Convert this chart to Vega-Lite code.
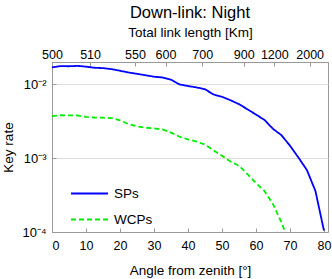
{
  "$schema": "https://vega.github.io/schema/vega-lite/v6.json",
  "width": 276,
  "height": 170,
  "autosize": "none",
  "padding": {"left": 52, "top": 62, "right": 4, "bottom": 47},
  "background": "white",
  "config": {
    "font": "Liberation Sans",
    "view": {"stroke": "#999999", "strokeWidth": 1},
    "axis": {
      "labelFont": "Liberation Sans",
      "titleFont": "Liberation Sans",
      "labelColor": "black",
      "titleColor": "black",
      "labelFontSize": 12.5,
      "titleFontSize": 13.5,
      "titleFontWeight": "normal",
      "domainColor": "#999999",
      "tickColor": "#999999",
      "gridColor": "#dddddd"
    }
  },
  "title": {
    "text": "Down-link: Night",
    "fontSize": 16.5,
    "fontWeight": "normal",
    "font": "Liberation Sans",
    "color": "black",
    "anchor": "middle",
    "offset": 4
  },
  "data": {
    "values": [
      {"series": "SPs", "angle": 0, "rate": 0.0170},
      {"series": "SPs", "angle": 2.5, "rate": 0.0177},
      {"series": "SPs", "angle": 5, "rate": 0.0176},
      {"series": "SPs", "angle": 7.5, "rate": 0.0178},
      {"series": "SPs", "angle": 10, "rate": 0.0174},
      {"series": "SPs", "angle": 12.5, "rate": 0.0168},
      {"series": "SPs", "angle": 15, "rate": 0.0166},
      {"series": "SPs", "angle": 17.5, "rate": 0.0161},
      {"series": "SPs", "angle": 20, "rate": 0.0153},
      {"series": "SPs", "angle": 22.5, "rate": 0.0145},
      {"series": "SPs", "angle": 25, "rate": 0.0139},
      {"series": "SPs", "angle": 27.5, "rate": 0.0133},
      {"series": "SPs", "angle": 30, "rate": 0.0127},
      {"series": "SPs", "angle": 32.5, "rate": 0.0124},
      {"series": "SPs", "angle": 35, "rate": 0.0116},
      {"series": "SPs", "angle": 37.5, "rate": 0.0100},
      {"series": "SPs", "angle": 40, "rate": 0.0095},
      {"series": "SPs", "angle": 42.5, "rate": 0.0091},
      {"series": "SPs", "angle": 45, "rate": 0.0086},
      {"series": "SPs", "angle": 47.5, "rate": 0.0073},
      {"series": "SPs", "angle": 50, "rate": 0.0068},
      {"series": "SPs", "angle": 52.5, "rate": 0.0061},
      {"series": "SPs", "angle": 55, "rate": 0.0054},
      {"series": "SPs", "angle": 57.5, "rate": 0.0046},
      {"series": "SPs", "angle": 60, "rate": 0.0039},
      {"series": "SPs", "angle": 62.5, "rate": 0.0033},
      {"series": "SPs", "angle": 65, "rate": 0.0025},
      {"series": "SPs", "angle": 67.5, "rate": 0.00205},
      {"series": "SPs", "angle": 70, "rate": 0.00148},
      {"series": "SPs", "angle": 72.5, "rate": 0.00102},
      {"series": "SPs", "angle": 75, "rate": 0.00069},
      {"series": "SPs", "angle": 77.5, "rate": 0.00036},
      {"series": "SPs", "angle": 80, "rate": 0.000105},
      {"series": "WCPs", "angle": 0, "rate": 0.00371},
      {"series": "WCPs", "angle": 2.5, "rate": 0.00382},
      {"series": "WCPs", "angle": 5, "rate": 0.00380},
      {"series": "WCPs", "angle": 7.5, "rate": 0.00379},
      {"series": "WCPs", "angle": 10, "rate": 0.00362},
      {"series": "WCPs", "angle": 12.5, "rate": 0.00356},
      {"series": "WCPs", "angle": 15, "rate": 0.00354},
      {"series": "WCPs", "angle": 17.5, "rate": 0.00350},
      {"series": "WCPs", "angle": 20, "rate": 0.00326},
      {"series": "WCPs", "angle": 22.5, "rate": 0.00290},
      {"series": "WCPs", "angle": 25, "rate": 0.00270},
      {"series": "WCPs", "angle": 27.5, "rate": 0.00259},
      {"series": "WCPs", "angle": 30, "rate": 0.00253},
      {"series": "WCPs", "angle": 32.5, "rate": 0.00245},
      {"series": "WCPs", "angle": 35, "rate": 0.00222},
      {"series": "WCPs", "angle": 37.5, "rate": 0.00196},
      {"series": "WCPs", "angle": 40, "rate": 0.00180},
      {"series": "WCPs", "angle": 42.5, "rate": 0.00168},
      {"series": "WCPs", "angle": 45, "rate": 0.00153},
      {"series": "WCPs", "angle": 47.5, "rate": 0.00128},
      {"series": "WCPs", "angle": 50, "rate": 0.00108},
      {"series": "WCPs", "angle": 52.5, "rate": 0.00090},
      {"series": "WCPs", "angle": 55, "rate": 0.00079},
      {"series": "WCPs", "angle": 57.5, "rate": 0.00061},
      {"series": "WCPs", "angle": 60, "rate": 0.00046},
      {"series": "WCPs", "angle": 62.5, "rate": 0.00036},
      {"series": "WCPs", "angle": 65, "rate": 0.00024},
      {"series": "WCPs", "angle": 67.5, "rate": 0.000135},
      {"series": "WCPs", "angle": 68.6, "rate": 0.0001}
    ]
  },
  "layer": [
    {
      "mark": {"type": "line", "strokeWidth": 1.8, "clip": true},
      "encoding": {
        "x": {
          "field": "angle",
          "type": "quantitative",
          "scale": {"domain": [0, 81.2], "nice": false, "zero": false},
          "axis": {
            "orient": "bottom",
            "values": [0, 10, 20, 30, 40, 50, 60, 70, 80],
            "title": "Angle from zenith [°]",
            "grid": false,
            "tickSize": -4,
            "labelPadding": 11,
            "titlePadding": 12
          }
        },
        "y": {
          "field": "rate",
          "type": "quantitative",
          "scale": {"type": "log", "domain": [0.0001, 0.0201], "nice": false},
          "axis": {
            "values": [0.0001, 0.001, 0.01],
            "labelExpr": "datum.value < 0.0005 ? '10⁻⁴' : datum.value < 0.005 ? '10⁻³' : '10⁻²'",
            "labelFontSize": 13,
            "title": "Key rate",
            "grid": true,
            "tickSize": -4,
            "labelPadding": 10,
            "titlePadding": 6
          }
        },
        "color": {
          "field": "series",
          "type": "nominal",
          "scale": {"domain": ["SPs", "WCPs"], "range": ["#0000ff", "#00ee00"]},
          "legend": {
            "title": null,
            "orient": "none",
            "legendX": 18,
            "legendY": 112,
            "symbolType": "stroke",
            "symbolSize": 1369,
            "symbolStrokeWidth": 1.8,
            "labelFontSize": 13.5,
            "labelFont": "Liberation Sans",
            "labelColor": "black",
            "rowPadding": -17,
            "labelOffset": 5
          }
        },
        "strokeDash": {
          "field": "series",
          "type": "nominal",
          "scale": {"domain": ["SPs", "WCPs"], "range": [[1, 0], [5, 3]]},
          "legend": {
            "title": null,
            "orient": "none",
            "legendX": 18,
            "legendY": 112,
            "symbolType": "stroke",
            "symbolSize": 1369,
            "symbolStrokeWidth": 1.8,
            "labelFontSize": 13.5,
            "labelFont": "Liberation Sans",
            "labelColor": "black",
            "rowPadding": -17,
            "labelOffset": 5
          }
        }
      }
    },
    {
      "mark": {"type": "point", "opacity": 0},
      "encoding": {
        "x": {
          "field": "angle",
          "type": "quantitative",
          "scale": {"domain": [0, 81.2], "nice": false, "zero": false},
          "axis": {
            "orient": "top",
            "values": [0, 11.2, 24.4, 33.4, 44.2, 56.4, 65.4, 75.8],
            "labelExpr": "datum.value < 5 ? '500' : datum.value < 15 ? '510' : datum.value < 30 ? '550' : datum.value < 40 ? '600' : datum.value < 50 ? '700' : datum.value < 60 ? '900' : datum.value < 70 ? '1200' : '2000'",
            "title": "Total link length [Km]",
            "grid": false,
            "tickSize": -4,
            "labelPadding": 4.5,
            "titlePadding": 9,
            "labelFlush": false
          }
        }
      }
    }
  ],
  "resolve": {"axis": {"x": "independent"}}
}
